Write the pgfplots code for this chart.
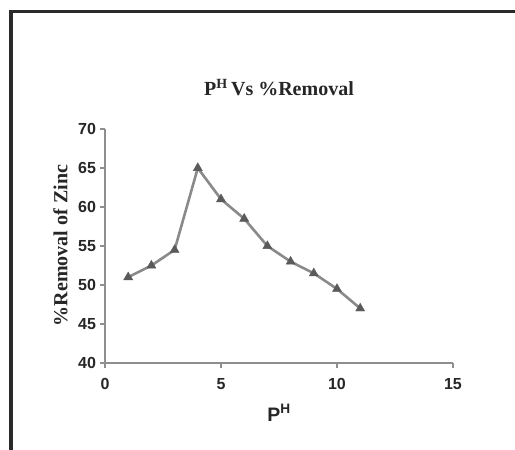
\documentclass[border=0pt]{standalone}
\usepackage{pgfplots}
\pgfplotsset{compat=1.18}
\usepackage{fontspec}
\setmainfont{Liberation Serif}
\setsansfont{Liberation Sans}

\definecolor{axisgray}{HTML}{8E8E8E}
\definecolor{linegray}{HTML}{8A8A8A}
\definecolor{markgray}{HTML}{5A5A5A}
\definecolor{framegray}{HTML}{2A2A2A}

\pgfplotstableread{
ph  removal
1   51
2   52.5
3   54.5
4   65
5   61
6   58.5
7   55
8   53
9   51.5
10  49.5
11  47
}\zincdata

\begin{document}
\begin{tikzpicture}
\path[use as bounding box] (0pt,0pt) rectangle (515pt,-450pt);
% outer frame
\draw[line width=3.6pt, framegray] (11pt,-452pt) -- (11pt,-11.5pt) -- (517pt,-11.5pt);
\begin{axis}[
  at={(105pt,-363pt)}, anchor=south west,
  scale only axis, width=348pt, height=234pt,
  xmin=0, xmax=15, ymin=40, ymax=70,
  xtick={0,5,10,15}, ytick={40,45,...,70},
  axis x line*=bottom, axis y line*=left,
  axis line style={axisgray, line width=2pt, -},
  every tick/.style={axisgray, line width=1.8pt},
  tick align=outside, major tick length=4.5pt,
  /pgf/number format/assume math mode=true,
  tick label style={font=\fontsize{16}{19}\sffamily\bfseries, text=black!85},
  xticklabel style={yshift=-7pt},
  yticklabel style={xshift=-1pt},
  title={P\textsuperscript{H}\,Vs \%Removal},
  title style={at={(0.5,1.117)}, anchor=base,
    font=\fontsize{20}{24}\rmfamily\bfseries, text=black!85},
  xlabel={P\textsuperscript{H}},
  xlabel style={at={(0.5,-0.25)}, anchor=base,
    font=\fontsize{19.5}{23}\sffamily\bfseries, text=black!85},
  ylabel={\%Removal of Zinc},
  ylabel style={at={(-0.128,0.502)}, anchor=center,
    font=\fontsize{20}{24}\rmfamily\bfseries, text=black!85},
  clip=false,
]
\addplot[linegray, line width=2.6pt, mark=triangle*, mark size=5.2pt,
  mark options={markgray, fill=markgray, line width=0.4pt}]
  table[x=ph, y=removal] {\zincdata};
\end{axis}
\end{tikzpicture}
\end{document}
